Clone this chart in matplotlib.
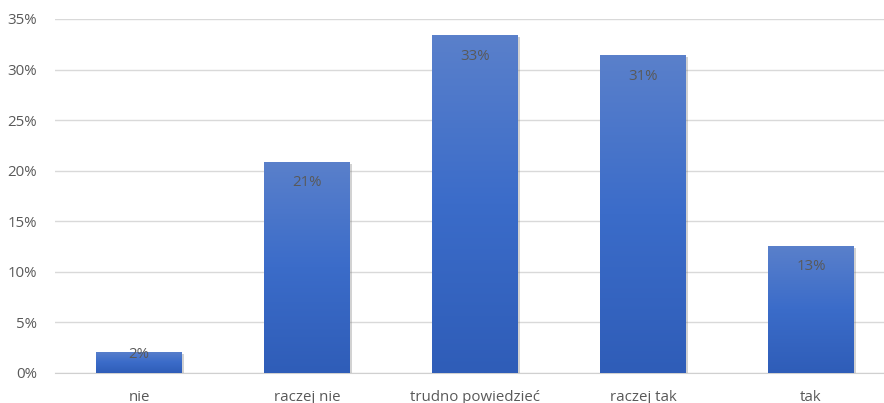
import numpy as np
import matplotlib
matplotlib.use("Agg")
import matplotlib.pyplot as plt
from matplotlib import patheffects as pe
from matplotlib.colors import LinearSegmentedColormap
from matplotlib.ticker import FuncFormatter

categories = ["nie", "raczej nie", "trudno powiedzieć", "raczej tak", "tak"]
values = [2.1, 20.9, 33.4, 31.4, 12.6]
yticks = [0, 5, 10, 15, 20, 25, 30, 35]

plt.rcParams["font.family"] = ["Open Sans", "DejaVu Sans"]

W, H = 884, 403
fig = plt.figure(figsize=(W / 100, H / 100), dpi=100)
left_px, right_px, bottom_px, top_px = 55, 884, 373, 19
ax = fig.add_axes([left_px / W, 1 - bottom_px / H,
                   (right_px - left_px) / W, (bottom_px - top_px) / H])

x = np.arange(len(categories))
bars = ax.bar(x, values, width=0.506, color="#4472c4", zorder=3,
              path_effects=[pe.SimplePatchShadow(offset=(1.5, -1.5),
                                                 shadow_rgbFace="#808080",
                                                 alpha=0.35),
                            pe.Normal()])

# vertical gradient fill clipped to each bar
grad = LinearSegmentedColormap.from_list(
    "bar_grad", ["#2f5db8", "#3b6cc9", "#5a80cb"])
g = np.linspace(0, 1, 256).reshape(-1, 1)
for b in bars:
    x0, y0 = b.get_x(), b.get_y()
    w, h = b.get_width(), b.get_height()
    im = ax.imshow(g, cmap=grad, aspect="auto", origin="lower",
                   extent=[x0, x0 + w, y0, y0 + h], zorder=4,
                   interpolation="bilinear")
    im.set_clip_path(b)

# value labels inside the bar tops
for xi, v in zip(x, values):
    pos = v - 2.1 if v > 4 else v - 0.3
    ax.text(xi, pos, f"{round(v):.0f}%", ha="center", va="center",
            fontsize=10.8, color="#595959", zorder=5)

ax.set_xlim(-0.5, -0.5 + (right_px - left_px) / 168)
ax.set_ylim(0, 35)
ax.set_yticks(yticks)
ax.yaxis.set_major_formatter(FuncFormatter(lambda v, _: f"{v:.0f}%"))
ax.set_xticks(x)
ax.set_xticklabels(categories)
ax.tick_params(axis="both", length=0, labelsize=10.8, labelcolor="#595959")
ax.tick_params(axis="y", pad=13)
ax.tick_params(axis="x", pad=12)
ax.grid(axis="y", color="#d9d9d9", linewidth=1, zorder=0)
for s in ["top", "right", "left"]:
    ax.spines[s].set_visible(False)
ax.spines["bottom"].set_color("#d0d0d0")
ax.spines["bottom"].set_zorder(2)

fig.savefig("out.png", dpi=100, facecolor="white")
